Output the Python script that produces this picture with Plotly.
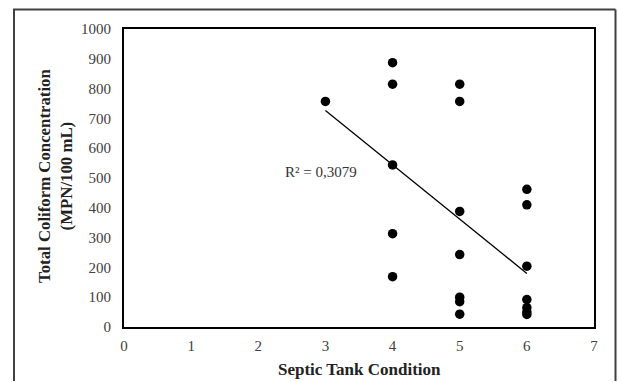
import numpy as np
import plotly.graph_objects as go

# Data
condition = [3, 4, 4, 4, 4, 4, 5, 5, 5, 5, 5, 5, 5, 6, 6, 6, 6, 6, 6, 6]
coliform = [757, 887, 815, 544, 313, 169, 815, 757, 388, 243, 100, 85, 43, 462, 410, 204, 92, 65, 50, 42]
x_ticks = [0, 1, 2, 3, 4, 5, 6, 7]
y_ticks = [0, 100, 200, 300, 400, 500, 600, 700, 800, 900, 1000]
r2_label = "R² = 0,3079"

W, H = 619, 382
L, R, T, B = 124, 25, 29, 55
pw, ph = W - L - R, H - T - B

slope, intercept = np.polyfit(condition, coliform, 1)
fit_x = [min(condition), max(condition)]
fit_y = [slope * v + intercept for v in fit_x]

font = "Liberation Serif, Times New Roman, serif"

fig = go.Figure()
fig.add_trace(go.Scatter(x=fit_x, y=fit_y, mode="lines",
                         line=dict(color="black", width=1.3), hoverinfo="skip"))
fig.add_trace(go.Scatter(x=condition, y=coliform, mode="markers",
                         marker=dict(color="black", size=9.5)))

fig.update_layout(
    width=W, height=H,
    margin=dict(l=L, r=R, t=T, b=B),
    paper_bgcolor="white", plot_bgcolor="white",
    showlegend=False,
    font=dict(family=font, size=15, color="black"),
    xaxis=dict(range=[0, 7], tickvals=x_ticks, showgrid=False, zeroline=False,
               showline=True, linecolor="black", linewidth=2, mirror=True,
               ticks="outside", ticklen=4, tickcolor="rgba(0,0,0,0)",
               tickfont=dict(family=font, size=15, color="#404040")),
    yaxis=dict(range=[0, 1000], tickvals=y_ticks, showgrid=False, zeroline=False,
               showline=True, linecolor="black", linewidth=2, mirror=True,
               ticks="outside", ticklen=8, tickcolor="rgba(0,0,0,0)",
               tickfont=dict(family=font, size=15, color="#404040")),
)

fig.add_annotation(text="<b>Septic Tank Condition</b>", xref="paper", yref="paper",
                   x=0.5, y=(327 - 369) / ph, xanchor="center", yanchor="middle",
                   showarrow=False, font=dict(family=font, size=17, color="#222"))
fig.add_annotation(text="<b>Total Coliform Concentration<br>(MPN/100 mL)</b>",
                   xref="paper", yref="paper", x=(55 - L) / pw, y=(327 - 176) / ph,
                   xanchor="center", yanchor="middle", textangle=-90,
                   showarrow=False, font=dict(family=font, size=16.8, color="#222"))
fig.add_annotation(text=r2_label, xref="x", yref="y", x=2.93, y=520,
                   xanchor="center", yanchor="middle", showarrow=False,
                   font=dict(family=font, size=15, color="#333"))

# outer chart border, drawn as separate lines
bx0, bx1 = (14 - L) / pw, (615.5 - L) / pw
by0, by1 = (327 - 381) / ph, (327 - 9.5) / ph
border = dict(color="#404040", width=2)
fig.add_shape(type="line", xref="paper", yref="paper", x0=bx0 - 0.002, x1=bx1, y0=by1, y1=by1, line=border)
fig.add_shape(type="line", xref="paper", yref="paper", x0=bx0, x1=bx0, y0=by0, y1=by1, line=border)
fig.add_shape(type="line", xref="paper", yref="paper", x0=bx1, x1=bx1, y0=by0, y1=by1, line=border)

fig.write_html("out.html", config={"displayModeBar": False},
               post_script="document.body.style.margin='0';document.body.style.overflow='hidden';")
